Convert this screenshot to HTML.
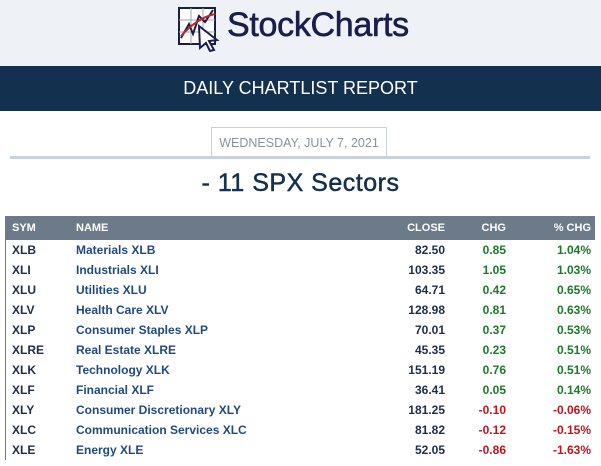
<!DOCTYPE html>
<html><head><meta charset="utf-8"><style>
body{margin:0;width:601px;height:466px;overflow:hidden;background:#fff;font-family:"Liberation Sans",sans-serif;position:relative}
.top{position:absolute;left:0;top:0;width:601px;height:66px;background:#eef2f7}
.band{position:absolute;left:0;top:66px;width:601px;height:45px;background:#13304f;color:#fff;font-size:18px;text-align:center;line-height:45px}
.date{position:absolute;left:211px;top:127px;width:174px;height:28px;border:1.5px solid #c9d2dc;border-bottom:none;color:#8a939c;font-size:12.5px;text-align:center;line-height:30px;background:#fff}
.rule{position:absolute;left:10px;top:156px;width:580px;height:3px;background:#c9d2dc}
.title{position:absolute;left:0;top:169px;width:601px;text-align:center;font-size:25px;color:#13304f;letter-spacing:0.5px}
table{position:absolute;left:5px;top:216px;width:590px;border-collapse:collapse;font-size:12px;font-weight:bold;border-left:1.5px solid #6c7a8a}
th{background:#6c7a8a;color:#fff;font-weight:bold;height:24px;text-align:left;font-size:11px;padding:0}
td{height:20px;line-height:20px;padding:0;color:#1d2c4a}
tbody tr{height:20px}
td.s{padding-left:6px;width:64px}th.s{padding-left:6px}
td.n{color:#1f4a80}
.r{text-align:right}
.g{color:#1a7a2a}.d{color:#c0141c}
</style></head><body>
<div class="top"></div>
<div style="position:absolute;left:177px;top:6px;width:250px;height:46px">
<svg width="46" height="46"><rect x="2" y="2" width="36" height="36" fill="#fff" stroke="#1a1f4a" stroke-width="2"/><path d="M2 14H38M2 26H38M14 2V38M26 2V38" stroke="#9aa" stroke-width="1"/><path d="M4 32L12 18L16 28L22 10L28 16L36 4" stroke="#1a1f4a" fill="none" stroke-width="2"/><path d="M4 30Q20 12 38 8" stroke="#c22" fill="none" stroke-width="2"/><path d="M22 20L40 34L32 35L37 44L33 45L29 37L23 42Z" fill="#fff" stroke="#1a1f4a" stroke-width="2"/></svg>
<span style="position:absolute;left:50px;top:0;font-size:34px;color:#1a1f4a;letter-spacing:-0.3px;-webkit-text-stroke:0.6px #1a1f4a">StockCharts</span></div>
<div class="band">DAILY CHARTLIST REPORT</div>
<div class="date">WEDNESDAY, JULY 7, 2021</div>
<div class="rule"></div>
<div class="title" style="-webkit-text-stroke:0.5px #13304f">- 11 SPX Sectors</div>
<table>
<thead><tr><th class="s">SYM</th><th>NAME</th><th class="r">CLOSE</th><th class="r">CHG</th><th class="r" style="padding-right:4px">% CHG</th></tr></thead>
<tbody id="tb"></tbody></table>
<script>
const syms=["XLB","XLI","XLU","XLV","XLP","XLRE","XLK","XLF","XLY","XLC","XLE"];
const names=["Materials XLB","Industrials XLI","Utilities XLU","Health Care XLV","Consumer Staples XLP","Real Estate XLRE","Technology XLK","Financial XLF","Consumer Discretionary XLY","Communication Services XLC","Energy XLE"];
const closes=["82.50","103.35","64.71","128.98","70.01","45.35","151.19","36.41","181.25","81.82","52.05"];
const chgs=["0.85","1.05","0.42","0.81","0.37","0.23","0.76","0.05","-0.10","-0.12","-0.86"];
const pcts=["1.04%","1.03%","0.65%","0.63%","0.53%","0.51%","0.51%","0.14%","-0.06%","-0.15%","-1.63%"];
const tb=document.getElementById('tb');
syms.forEach((s,i)=>{const tr=document.createElement('tr');


const k=parseFloat(chgs[i])<0?'d':'g';
tr.innerHTML=`<td class="s">${s}</td><td class="n">${names[i]}</td><td class="r">${closes[i]}</td><td class="r ${k}" style="width:61px">${chgs[i]}</td><td class="r ${k}" style="width:85px;padding-right:4px">${pcts[i]}</td>`;
tb.appendChild(tr);});
</script>
</body></html>
